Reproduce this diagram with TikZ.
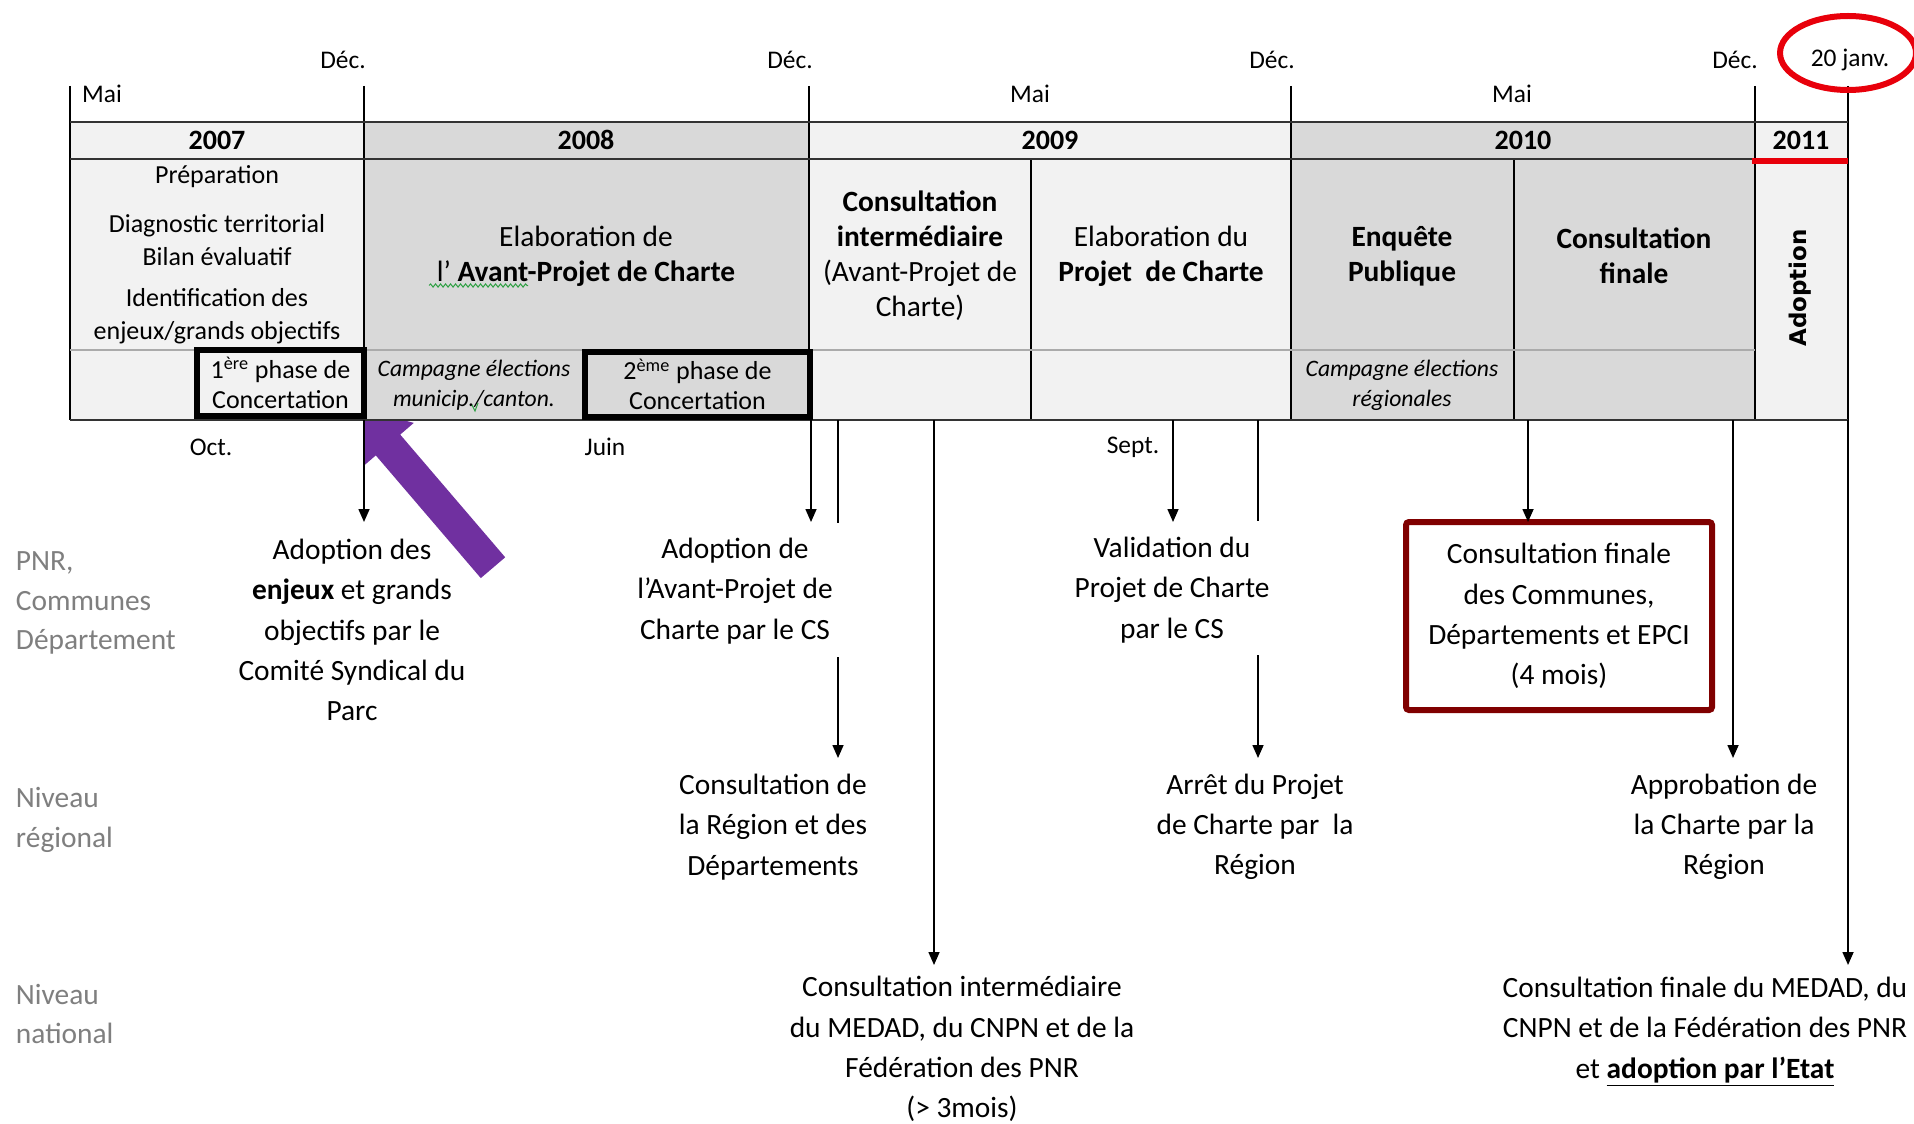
\documentclass[tikz,border=0pt]{standalone}
\usepackage{fontspec}
\setmainfont{Carlito}
\newfontfamily\adfont{DejaVu Sans}
\usetikzlibrary{arrows.meta,calc,decorations.pathmorphing}
\definecolor{lightc}{HTML}{F2F2F2}
\definecolor{darkc}{HTML}{D9D9D9}
\definecolor{purp}{HTML}{7030A0}
\definecolor{boxred}{HTML}{800000}
\definecolor{lblgrey}{HTML}{7F7F7F}
\definecolor{circred}{HTML}{E8000B}
\definecolor{spellg}{HTML}{2EA043}
\begin{document}
\begin{tikzpicture}[x=0.5pt,y=-0.5pt,
  every node/.style={inner sep=0pt, outer sep=0pt},
  tl/.style={font=\fontsize{12.7}{15}\selectfont},
  yr/.style={font=\fontsize{14}{16}\selectfont\bfseries},
  bodyl/.style={font=\fontsize{14.7}{17.5}\selectfont, align=center},
  bodys/.style={font=\fontsize{13}{16.5}\selectfont, align=center},
  phs/.style={font=\fontsize{13}{15}\selectfont, align=center},
  camp/.style={font=\fontsize{11.8}{15}\selectfont\itshape, align=center},
  lvl/.style={font=\fontsize{14.7}{20.1}\selectfont, align=center},
  side/.style={font=\fontsize{14.7}{19.7}\selectfont, align=left, text=lblgrey, anchor=west},
  vline/.style={line width=0.9pt},
  hline/.style={line width=1.4pt, draw=black!80},
  conn/.style={line width=0.8pt},
  arr/.style={conn, -{Triangle[length=6.5pt,width=5.5pt]}},
  phbox/.style={draw, line width=3.1pt, phs},
  squig/.style={draw=spellg, line width=0.5pt, decorate, decoration={snake, amplitude=0.8pt, segment length=2.5pt}},
]
\useasboundingbox (0,0) rectangle (1914,1123);
\fill[white] (0,0) rectangle (1914,1123);

% ---------- cell fills
\fill[lightc] (70,122) rectangle (364,420);
\fill[darkc] (364,122) rectangle (809,420);
\fill[lightc] (809,122) rectangle (1291,420);
\fill[darkc] (1291,122) rectangle (1755,420);
\fill[lightc] (1755,122) rectangle (1848,420);

% ---------- purple arrow (partly hidden)
\begin{scope}
\clip (365,421) rectangle (700,700);
\fill[purp] (355.5,407) -- (413.8,422.9) -- (400.2,434.6) -- (505.2,557.3)
  -- (480.8,578.1) -- (375.8,455.4) -- (362.2,467.1) -- cycle;
\end{scope}

% ---------- table lines
\draw[vline] (70,86) -- (70,420);
\draw[vline] (364,86) -- (364,420);
\draw[vline] (809,86) -- (809,420);
\draw[vline] (1291,86) -- (1291,420);
\draw[vline] (1755,86) -- (1755,420);
\draw[vline] (1848,86) -- (1848,420);
\draw[vline] (1031,159) -- (1031,420);
\draw[vline] (1514,159) -- (1514,420);
\draw[hline] (70,122) -- (1848,122);
\draw[hline] (70,159) -- (1848,159);
\draw[line width=1.1pt, draw=black!33] (70,350) -- (1755,350);
\draw[hline] (70,420) -- (1848,420);
\draw[circred, line width=2.6pt] (1752,161) -- (1848,161);

% ---------- labels above / below the table
\node[tl] (dec1) at (343,60) {Déc.};
\node[tl] (dec2) at (790,60) {Déc.};
\node[tl] (dec3) at (1272,60) {Déc.};
\node[tl] (dec4) at (1735,60) {Déc.};
\node[tl] (jan) at (1850,60) {20 janv.};
\draw[circred, line width=3pt] (1848,53) ellipse [x radius=34pt, y radius=18.5pt];
\node[tl] (mai1) at (102,94) {Mai};
\node[tl] (mai2) at (1030,94) {Mai};
\node[tl] (mai3) at (1512,94) {Mai};
\node[tl] (oct) at (211,447) {Oct.};
\node[tl] (juin) at (605,447) {Juin};
\node[tl] (sept) at (1133,447) {Sept.};

% ---------- years
\node[yr] (y7) at (217,140) {2007};
\node[yr] (y8) at (586,140) {2008};
\node[yr] (y9) at (1050,140) {2009};
\node[yr] (y10) at (1523,140) {2010};
\node[yr] (y11) at (1801,140) {2011};

% ---------- body cells
\node[bodys] (p1) at (217,177) {Préparation};
\node[bodys] (p2) at (217,240) {Diagnostic territorial\\Bilan évaluatif};
\node[bodys] (p3) at (217,316) {Identification des\\enjeux/grands objectifs};
\node[bodyl] (el1) at (586,256) {Elaboration de\\l' \textbf{Avant-Projet de Charte}};
\node[bodyl] (ci) at (920,256) {\textbf{Consultation}\\\textbf{intermédiaire}\\(Avant-Projet de\\Charte)};
\node[bodyl] (el2) at (1161,256) {Elaboration du\\\textbf{Projet~ de Charte}};
\node[bodyl] (enq) at (1402,256) {\textbf{Enquête}\\\textbf{Publique}};
\node[bodyl] (cfin) at (1634,256) {\textbf{Consultation}\\\textbf{finale}};
\node[rotate=90, font=\adfont\bfseries\fontsize{11.5}{13}\selectfont] (adop) at (1800,288) {Adoption};
\draw[squig] (429,285.5) -- (528,285.5);

% ---------- bottom row
\node[phbox, minimum width=83.6pt, minimum height=33.2pt] (ph1) at (280.5,383) {1\textsuperscript{ère} phase de\\Concertation};
\node[camp] (camp1) at (474,385) {Campagne élections\\municip./canton.};
\draw[spellg, line width=0.5pt] (472,405) -- (475,411) -- (478,403);
\node[phbox, minimum width=112.6pt, minimum height=32.7pt] (ph2) at (697.5,384.5) {2\textsuperscript{ème} phase de\\Concertation};
\node[camp] (camp2) at (1402,385) {Campagne élections\\régionales};

% ---------- left labels
\node[side] (s1) at (16,603) {PNR,\\Communes\\Département};
\node[side] (s2) at (16,820) {Niveau\\régional};
\node[side] (s3) at (16,1014) {Niveau\\national};

% ---------- event texts
\node[lvl] (a1) at (352,630) {Adoption des\\\textbf{enjeux} et grands\\objectifs par le\\Comité Syndical du\\Parc};
\node[lvl] (a2) at (735,591) {Adoption de\\l’Avant-Projet de\\Charte par le CS};
\node[lvl] (a3) at (1172,590) {Validation du\\Projet de Charte\\par le CS};
\node[lvl, draw=boxred, line width=3pt, rounded corners=1.5pt, minimum width=153pt, minimum height=94pt] (rb) at (1559,616) {Consultation finale\\des Communes,\\Départements et EPCI\\(4 mois)};
\node[lvl] (r1) at (773,827) {Consultation de\\la Région et des\\Départements};
\node[lvl] (r2) at (1255,827) {Arrêt du Projet\\de Charte par~ la\\Région};
\node[lvl] (r3) at (1724,827) {Approbation de\\la Charte par la\\Région};
\node[lvl] (n1) at (962,1049) {Consultation intermédiaire\\du MEDAD, du CNPN et de la\\Fédération des PNR\\(> 3mois)};
\node[lvl] (n2) at (1705,1032) {Consultation finale du MEDAD, du\\CNPN et de la Fédération des PNR\\et \underline{\textbf{adoption par l’Etat}}};

% ---------- connectors
\coordinate (t1) at (364,420);  \coordinate (h1) at (364,522);
\coordinate (t2) at (811,420);  \coordinate (h2) at (811,522);
\coordinate (t3) at (838,420);  \coordinate (g3a) at (838,523);
\coordinate (g3b) at (838,657); \coordinate (h3) at (838,758);
\coordinate (t4) at (934,420);  \coordinate (h4) at (934,965);
\coordinate (t5) at (1173,420); \coordinate (h5) at (1173,522);
\coordinate (t6) at (1258,420); \coordinate (g6a) at (1258,521);
\coordinate (g6b) at (1258,655); \coordinate (h6) at (1258,758);
\coordinate (t7) at (1528,420);
\coordinate (t8) at (1733,420); \coordinate (h8) at (1733,758);
\coordinate (t9) at (1848,420); \coordinate (h9) at (1848,965);

\draw[arr] (t1) -- (h1);
\draw[arr] (t2) -- (h2);
\draw[conn] (t3) -- (g3a);
\draw[arr] (g3b) -- (h3);
\draw[arr] (t4) -- (h4);
\draw[arr] (t5) -- (h5);
\draw[conn] (t6) -- (g6a);
\draw[arr] (g6b) -- (h6);
\draw[arr] (t7) -- (t7 |- rb.north);
\draw[arr] (t8) -- (h8);
\draw[arr] (t9) -- (h9);
\end{tikzpicture}
\end{document}
